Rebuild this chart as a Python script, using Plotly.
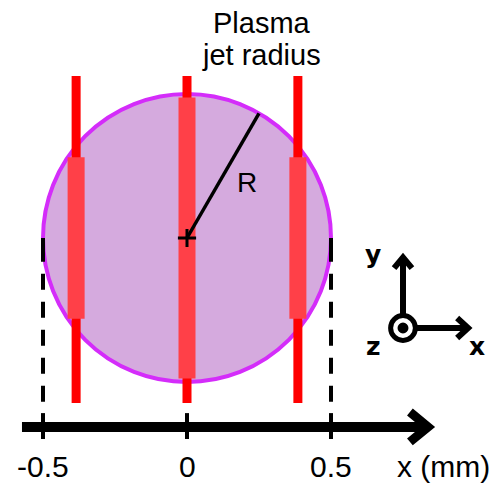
import plotly.graph_objects as go
import math

# ---- data (mm) ----
jet_radius = 0.5
beam_x = [-0.385, 0.0, 0.385]
beam_thin_top = [0.5625, 0.5625, 0.5625]
beam_thin_bottom = [-0.573, -0.573, -0.573]
beam_thick_half = [0.28, 0.488, 0.28]
guide_x = [-0.5, 0.5]
guide_bottom = -0.569
tick_values = [-0.5, 0.0, 0.5]
tick_labels = ["-0.5", "0", "0.5"]
axis_y = -0.656
axis_start = -0.573
axis_tip = 0.837
radius_angle_deg = 60

RED = "rgb(255,0,0)"
RED2 = "rgb(255,64,72)"
FILL = "rgb(213,170,222)"
EDGE = "rgb(212,44,250)"
FONT = "Liberation Sans, Arial, sans-serif"

fig = go.Figure()

# jet circle
fig.add_shape(type="circle", xref="x", yref="y",
              x0=-jet_radius, y0=-jet_radius, x1=jet_radius, y1=jet_radius,
              fillcolor=FILL, line=dict(color=EDGE, width=4), layer="below")

# guide dashed lines (drawn from bottom up so dash phase matches)
for gx in guide_x:
    fig.add_trace(go.Scatter(x=[gx, gx], y=[guide_bottom, 0], mode="lines",
                             line=dict(color="black", width=4, dash="16px,12px"),
                             hoverinfo="skip", showlegend=False))
    fig.add_trace(go.Scatter(x=[gx, gx], y=[0, -0.03], mode="lines",
                             line=dict(color="black", width=4),
                             hoverinfo="skip", showlegend=False))

# thin beams
for bx, t, b in zip(beam_x, beam_thin_top, beam_thin_bottom):
    fig.add_trace(go.Scatter(x=[bx, bx], y=[t, b], mode="lines",
                             line=dict(color=RED, width=9),
                             hoverinfo="skip", showlegend=False))
# thick beam parts inside jet
for bx, h in zip(beam_x, beam_thick_half):
    fig.add_trace(go.Scatter(x=[bx, bx], y=[h, -h], mode="lines",
                             line=dict(color=RED2, width=17),
                             hoverinfo="skip", showlegend=False))

# radius line
a = math.radians(radius_angle_deg)
fig.add_trace(go.Scatter(x=[0, jet_radius * math.cos(a)], y=[0, jet_radius * math.sin(a)],
                         mode="lines", line=dict(color="black", width=3.5),
                         hoverinfo="skip", showlegend=False))
fig.add_trace(go.Scatter(x=[0], y=[0], mode="markers",
                         marker=dict(symbol="cross-thin", size=13,
                                     line=dict(color="black", width=3)),
                         hoverinfo="skip", showlegend=False))

# main x axis arrow
fig.add_trace(go.Scatter(x=[axis_start, axis_tip], y=[axis_y, axis_y], mode="lines",
                         line=dict(color="black", width=10),
                         hoverinfo="skip", showlegend=False))
fig.add_trace(go.Scatter(x=[axis_tip - 0.063, axis_tip, axis_tip - 0.063],
                         y=[axis_y + 0.052, axis_y, axis_y - 0.052], mode="lines",
                         line=dict(color="black", width=9),
                         hoverinfo="skip", showlegend=False))
for tv in tick_values:
    fig.add_trace(go.Scatter(x=[tv, tv], y=[axis_y + 0.048, axis_y - 0.042], mode="lines",
                             line=dict(color="black", width=4),
                             hoverinfo="skip", showlegend=False))

annotations = []
for tv, tl in zip(tick_values, tick_labels):
    annotations.append(dict(x=tv, y=-0.795, text=tl, showarrow=False,
                            xanchor="center", yanchor="middle",
                            font=dict(family=FONT, size=30, color="black")))
annotations.append(dict(x=0.892, y=-0.795, text="x (mm)", showarrow=False,
                        xanchor="center", yanchor="middle",
                        font=dict(family=FONT, size=30, color="black")))
annotations.append(dict(x=0.26, y=0.745, text="Plasma", showarrow=False,
                        xanchor="center", yanchor="middle",
                        font=dict(family=FONT, size=29, color="black")))
annotations.append(dict(x=0.26, y=0.635, text="jet radius", showarrow=False,
                        xanchor="center", yanchor="middle",
                        font=dict(family=FONT, size=29, color="black")))
annotations.append(dict(x=0.208, y=0.191, text="R", showarrow=False,
                        xanchor="center", yanchor="middle",
                        font=dict(family=FONT, size=28, color="black")))

# coordinate triad
cx, cy = 0.75, -0.3125
cr = 0.043
fig.add_trace(go.Scatter(x=[cx, cx], y=[cy + cr, cy + 0.245], mode="lines",
                         line=dict(color="black", width=6),
                         hoverinfo="skip", showlegend=False))
fig.add_trace(go.Scatter(x=[cx - 0.031, cx, cx + 0.031],
                         y=[cy + 0.208, cy + 0.245, cy + 0.208], mode="lines",
                         line=dict(color="black", width=6),
                         hoverinfo="skip", showlegend=False))
fig.add_trace(go.Scatter(x=[cx + cr, cx + 0.226], y=[cy, cy], mode="lines",
                         line=dict(color="black", width=6),
                         hoverinfo="skip", showlegend=False))
fig.add_trace(go.Scatter(x=[cx + 0.188, cx + 0.226, cx + 0.188],
                         y=[cy + 0.035, cy, cy - 0.035], mode="lines",
                         line=dict(color="black", width=6),
                         hoverinfo="skip", showlegend=False))
fig.add_shape(type="circle", xref="x", yref="y",
              x0=cx - cr, y0=cy - cr, x1=cx + cr, y1=cy + cr,
              fillcolor="white", line=dict(color="black", width=5), layer="above")
fig.add_shape(type="circle", xref="x", yref="y",
              x0=cx - 0.019, y0=cy - 0.019, x1=cx + 0.019, y1=cy + 0.019,
              fillcolor="black", line=dict(color="black", width=0), layer="above")
BFONT = "DejaVu Sans, sans-serif"
annotations.append(dict(x=0.646, y=-0.059, text="<b>y</b>", showarrow=False,
                        xanchor="center", yanchor="middle",
                        font=dict(family=BFONT, size=25, color="black")))
annotations.append(dict(x=0.646, y=-0.378, text="<b>z</b>", showarrow=False,
                        xanchor="center", yanchor="middle",
                        font=dict(family=BFONT, size=25, color="black")))
annotations.append(dict(x=1.007, y=-0.378, text="<b>x</b>", showarrow=False,
                        xanchor="center", yanchor="middle",
                        font=dict(family=BFONT, size=25, color="black")))

# page body has an 8px margin: size the figure to fit the window after it
fig.update_layout(
    width=490, height=483,
    margin=dict(l=0, r=0, t=0, b=0),
    paper_bgcolor="white", plot_bgcolor="white",
    showlegend=False,
    annotations=annotations,
    xaxis=dict(range=[-179 / 288, 311 / 288], visible=False, fixedrange=True),
    yaxis=dict(range=[-253 / 288, 230 / 288], visible=False, fixedrange=True),
)

fig.write_html("out.html")
